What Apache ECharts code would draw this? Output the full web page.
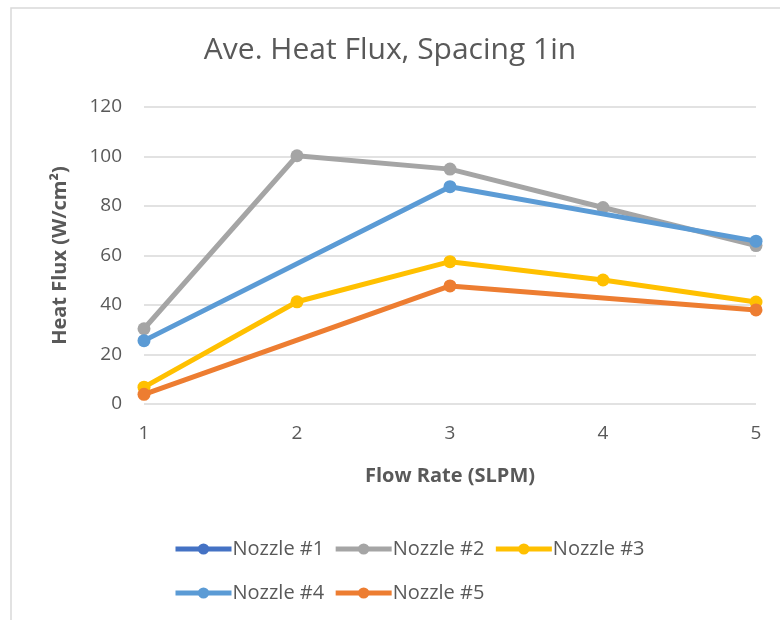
<!DOCTYPE html>
<html><head><meta charset="utf-8">
<script src="https://cdn.jsdelivr.net/npm/echarts@6/dist/echarts.min.js"></script>
<style>html,body{margin:0;padding:0;background:#fff}#c{width:780px;height:620px}</style>
</head><body><div id="c"></div>
<script>
const categories = ['1','2','3','4','5'];
const yTicks = [0,20,40,60,80,100,120];
const nozzle1 = [null,null,null,null,null];
const nozzle2 = [30.4,100.3,94.9,79.4,64];
const nozzle3 = [6.8,41.3,57.5,50.1,41.2];
const nozzle4 = [25.6,null,87.8,null,65.8];
const nozzle5 = [3.9,null,47.7,null,38];
const names = ['Nozzle #1','Nozzle #2','Nozzle #3','Nozzle #4','Nozzle #5'];
const colors = ['#4472C4','#A5A5A5','#FFC000','#5B9BD5','#ED7D31'];
const seriesData = [nozzle1,nozzle2,nozzle3,nozzle4,nozzle5];
const font = 'Open Sans';
const legendBase = {itemWidth:56,itemHeight:14,itemGap:9,
  lineStyle:{width:5},
  textStyle:{fontFamily:font,fontSize:20,color:'#595959',padding:[0,0,0,-4]}};
const chart = echarts.init(document.getElementById('c'));
chart.setOption({
  animation:false,
  backgroundColor:'#fff',
  graphic:[{type:'rect',shape:{x:11,y:8,width:800,height:700},style:{fill:'none',stroke:'#d9d9d9',lineWidth:1.5},silent:true}],
  title:{text:'Ave. Heat Flux, Spacing 1in',left:'center',top:30,
    textStyle:{fontFamily:font,fontSize:30,fontWeight:'normal',color:'#595959'}},
  grid:{left:144,right:24,top:107,bottom:216},
  xAxis:{type:'category',data:categories,boundaryGap:false,
    name:'Flow Rate (SLPM)',nameLocation:'middle',nameGap:62,
    nameTextStyle:{fontFamily:font,fontSize:20,fontWeight:'bold',color:'#595959'},
    axisLine:{show:false},axisTick:{show:false},
    axisLabel:{fontFamily:font,fontSize:19,color:'#595959',margin:20},
    splitLine:{show:false}},
  yAxis:{type:'value',min:0,max:120,interval:20,
    name:'Heat Flux (W/cm²)',nameLocation:'middle',nameGap:74,
    nameTextStyle:{fontFamily:font,fontSize:20,fontWeight:'bold',color:'#595959'},
    axisLine:{show:false},axisTick:{show:false},
    axisLabel:{fontFamily:font,fontSize:19,color:'#595959',margin:22,
      formatter:v=>yTicks.includes(v)?String(v):''},
    splitLine:{lineStyle:{color:'#d9d9d9',width:1.5}}},
  legend:[
    Object.assign({left:168,top:534,data:names.slice(0,3)},legendBase),
    Object.assign({left:168,top:578,data:names.slice(3)},legendBase)
  ],
  series:seriesData.map((d,i)=>({
    name:names[i],type:'line',data:d,connectNulls:true,
    symbol:'circle',symbolSize:13,
    lineStyle:{width:5,color:colors[i]},
    itemStyle:{color:colors[i]},
    z:i
  }))
});
</script></body></html>
